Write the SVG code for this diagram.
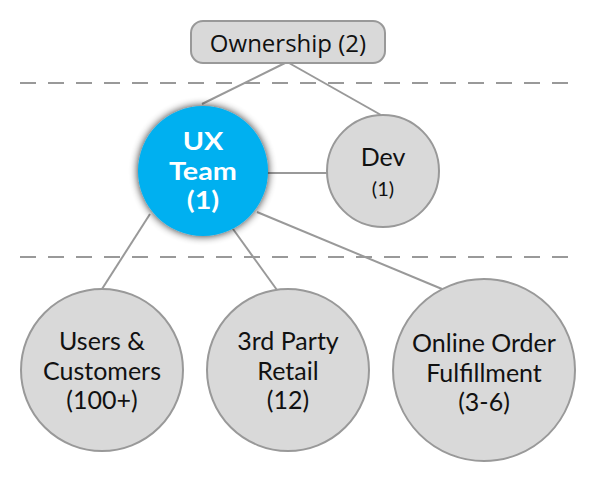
<svg xmlns="http://www.w3.org/2000/svg" width="596" height="482" viewBox="0 0 596 482">
<defs>
<filter id="glow" x="-30%" y="-30%" width="160%" height="160%">
<feGaussianBlur in="SourceAlpha" stdDeviation="4"/>
<feComponentTransfer><feFuncA type="linear" slope="0.85"/></feComponentTransfer>
<feMerge><feMergeNode/><feMergeNode in="SourceGraphic"/></feMerge>
</filter>
</defs>
<style>
.sep{stroke:#999;stroke-width:2;stroke-dasharray:16 12;fill:none}
.edge{stroke:#999;stroke-width:2;fill:none}
.node{fill:#D9D9D9;stroke:#999;stroke-width:2}
.t{font-family:Lato,"Open Sans",sans-serif;font-size:25px;fill:#111;text-anchor:middle}
.o{font-family:"Open Sans","Noto Sans",sans-serif;font-size:24px}
.s{font-size:20px}
.ux{fill:#00B0F0}
.uxt{font-family:Lato,"Open Sans",sans-serif;font-size:25px;font-weight:700;fill:#fff;text-anchor:middle}
</style>
<rect width="596" height="482" fill="#fff"/>
<g id="separators">
<line class="sep" x1="20" y1="83" x2="568" y2="83"/>
<line class="sep" x1="20" y1="257" x2="568" y2="257"/>
</g>
<g id="connectors">
<line class="edge" x1="285" y1="63" x2="202" y2="104"/>
<line class="edge" x1="289" y1="63" x2="381" y2="115"/>
<line class="edge" x1="266" y1="173" x2="327" y2="173"/>
<line class="edge" x1="150" y1="214" x2="102" y2="289"/>
<line class="edge" x1="233" y1="229" x2="277" y2="290"/>
<line class="edge" x1="257" y1="212" x2="442" y2="289"/>
</g>
<g id="ownership">
<rect class="node" x="191" y="21" width="194" height="42" rx="12"/>
<text class="t o" x="288" y="52">Ownership (2)</text>
</g>
<g id="ux-team">
<circle class="ux" cx="203" cy="171" r="65" filter="url(#glow)"/>
<text class="uxt" transform="translate(203 0) scale(1.15 1) translate(-203 0)"><tspan x="203" y="150">UX</tspan><tspan x="203" y="180">Team</tspan><tspan x="203" y="209">(1)</tspan></text>
</g>
<g id="dev">
<circle class="node" cx="383" cy="171" r="56"/>
<text class="t"><tspan x="383" y="166">Dev</tspan><tspan class="s" x="383" y="196">(1)</tspan></text>
</g>
<g id="users">
<circle class="node" cx="102" cy="370" r="81"/>
<text class="t"><tspan x="102" y="350">Users &amp;</tspan><tspan x="102" y="380">Customers</tspan><tspan x="102" y="409">(100+)</tspan></text>
</g>
<g id="retail">
<circle class="node" cx="288" cy="370" r="81"/>
<text class="t"><tspan x="288" y="350">3rd Party</tspan><tspan x="288" y="380">Retail</tspan><tspan x="288" y="409">(12)</tspan></text>
</g>
<g id="online">
<circle class="node" cx="484" cy="370" r="91"/>
<text class="t"><tspan x="484" y="352">Online Order</tspan><tspan x="484" y="382">Fulfillment</tspan><tspan x="484" y="411">(3-6)</tspan></text>
</g>
</svg>
